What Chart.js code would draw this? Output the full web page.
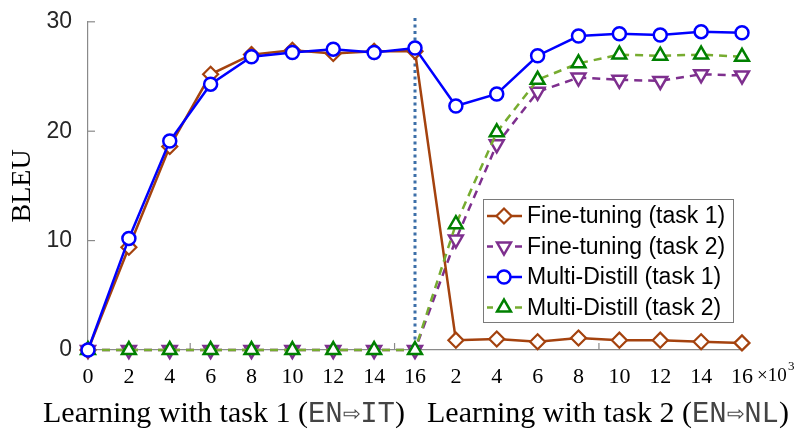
<!DOCTYPE html>
<html>
<head>
<meta charset="utf-8">
<script src="https://cdn.jsdelivr.net/npm/chart.js@4"></script>
<style>
  html, body { margin: 0; padding: 0; background: #fff; }
  #chart { display: block; }
</style>
</head>
<body>
<canvas id="chart" width="806" height="439"></canvas>
<script>
// x positions: training steps (x10^3) for task 1, then task 2
const steps = ['0', '2', '4', '6', '8', '10', '12', '14', '16', '2', '4', '6', '8', '10', '12', '14', '16'];

const fineTuningTask1 = [0, 9.4, 18.6, 25.2, 27.0, 27.4, 27.1, 27.3, 27.3, 0.9, 1.0, 0.75, 1.1, 0.9, 0.9, 0.75, 0.65];
const fineTuningTask2 = [0, 0, 0, 0, 0, 0, 0, 0, 0, 10.1, 18.8, 23.6, 24.9, 24.7, 24.6, 25.2, 25.1];
const multiDistillTask1 = [0, 10.2, 19.1, 24.3, 26.8, 27.2, 27.5, 27.2, 27.6, 22.3, 23.4, 26.9, 28.7, 28.9, 28.8, 29.1, 29.0];
const multiDistillTask2 = [0, 0, 0, 0, 0, 0, 0, 0, 0, 11.5, 19.9, 24.7, 26.2, 27.0, 26.9, 27.0, 26.8];

const yTicks = [0, 10, 20, 30];
const taskSwitchIndex = 8;

const BROWN = '#A4420E';
const PURPLE = '#7E2F8E';
const BLUE = '#0000FF';
const GREEN_LINE = '#77AC30';
const GREEN_MARK = '#008000';
const AXIS = '#8a8a8a';

function drawMarker(ctx, style, x, y, r, rot) {
  ctx.beginPath();
  if (style === 'circle') {
    ctx.arc(x, y, r, 0, Math.PI * 2);
  } else if (style === 'rectRot') {
    ctx.moveTo(x, y - r);
    ctx.lineTo(x + r, y);
    ctx.lineTo(x, y + r);
    ctx.lineTo(x - r, y);
  } else if (style === 'triangle') {
    let a = (rot || 0) * Math.PI / 180;
    for (let k = 0; k < 3; k++) {
      const px = x + Math.sin(a) * r;
      const py = y - Math.cos(a) * r;
      if (k === 0) ctx.moveTo(px, py); else ctx.lineTo(px, py);
      a += Math.PI * 2 / 3;
    }
  }
  ctx.closePath();
  ctx.fill();
  ctx.stroke();
}

const extras = {
  id: 'extras',
  beforeDatasetsDraw(chart) {
    const { ctx, scales: { x, y } } = chart;
    ctx.save();
    // task switch line
    const sx = x.getPixelForValue(taskSwitchIndex);
    ctx.strokeStyle = '#3C6FA8';
    ctx.lineWidth = 3;
    ctx.setLineDash([3, 3.5]);
    ctx.beginPath();
    ctx.moveTo(sx, 18);
    ctx.lineTo(sx, y.bottom);
    ctx.stroke();
    ctx.setLineDash([]);
    // inward tick marks
    ctx.strokeStyle = AXIS;
    ctx.lineWidth = 1.2;
    yTicks.forEach((v) => {
      const py = y.getPixelForValue(v);
      ctx.beginPath();
      ctx.moveTo(x.left, py);
      ctx.lineTo(x.left + 7, py);
      ctx.stroke();
    });
    [2.5, 7.5, 12.5].forEach((v) => {
      const px = x.getPixelForValue(v);
      ctx.beginPath();
      ctx.moveTo(px, y.bottom);
      ctx.lineTo(px, y.bottom - 7);
      ctx.stroke();
    });
    ctx.restore();
  },
  afterDraw(chart) {
    const { ctx } = chart;
    ctx.save();

    // legend box
    const bx = 483, by = 199, bw = 250, bh = 123;
    ctx.fillStyle = '#fff';
    ctx.fillRect(bx, by, bw, bh);
    ctx.strokeStyle = '#7a7a7a';
    ctx.lineWidth = 1;
    ctx.strokeRect(bx + 0.5, by + 0.5, bw, bh);
    [0, 1, 2, 3].forEach((i, row) => {
      const ds = chart.data.datasets[i];
      const ly = by + 17 + row * 30.5;
      ctx.strokeStyle = ds.borderColor;
      ctx.lineWidth = 2.5;
      ctx.beginPath();
      if (ds.borderDash) {
        ctx.moveTo(bx + 4, ly); ctx.lineTo(bx + 10, ly);
        ctx.moveTo(bx + 32, ly); ctx.lineTo(bx + 39, ly);
      } else {
        ctx.moveTo(bx + 4, ly); ctx.lineTo(bx + 39, ly);
      }
      ctx.stroke();
      ctx.fillStyle = '#fff';
      ctx.strokeStyle = ds.pointBorderColor;
      ctx.lineWidth = ds.pointBorderWidth;
      drawMarker(ctx, ds.pointStyle, bx + 21, ly, ds.pointRadius, ds.pointRotation);
      ctx.fillStyle = '#000';
      ctx.font = '23px "Liberation Sans", Arial, sans-serif';
      ctx.textBaseline = 'middle';
      ctx.textAlign = 'left';
      ctx.fillText(ds.label, bx + 44, ly + 1);
    });

    // x10^3 multiplier
    ctx.fillStyle = '#000';
    ctx.textBaseline = 'alphabetic';
    ctx.font = '19px "Liberation Serif", "Times New Roman", serif';
    ctx.fillText('×10', 757, 381);
    ctx.font = '13px "Liberation Serif", "Times New Roman", serif';
    ctx.fillText('3', 788, 370);

    // task titles below the axis
    const serif = '30px "Liberation Serif", "Times New Roman", serif';
    const mono = '29px "Liberation Mono", "DejaVu Sans Mono", monospace';
    const titles = [
      { cx: 224, parts: [['Learning with task 1 (', serif], ['EN⇨IT', mono], [')', serif]] },
      { cx: 608, parts: [['Learning with task 2 (', serif], ['EN⇨NL', mono], [')', serif]] },
    ];
    titles.forEach((t) => {
      let total = 0;
      t.parts.forEach(([txt, f]) => { ctx.font = f; total += ctx.measureText(txt).width; });
      let cx = t.cx - total / 2;
      t.parts.forEach(([txt, f]) => {
        ctx.font = f;
        ctx.fillStyle = f === mono ? '#444' : '#000';
        ctx.fillText(txt, cx, 422);
        cx += ctx.measureText(txt).width;
      });
    });
    ctx.restore();
  },
};

new Chart(document.getElementById('chart'), {
  type: 'line',
  data: {
    labels: steps,
    datasets: [
      {
        label: 'Fine-tuning (task 1)',
        data: fineTuningTask1,
        borderColor: BROWN,
        borderWidth: 2.5,
        pointStyle: 'rectRot',
        pointRadius: 7.5,
        pointBorderColor: BROWN,
        pointBackgroundColor: '#fff',
        pointBorderWidth: 2.2,
        order: 2,
      },
      {
        label: 'Fine-tuning (task 2)',
        data: fineTuningTask2,
        borderColor: PURPLE,
        borderWidth: 2.5,
        borderDash: [8, 6],
        pointStyle: 'triangle',
        pointRotation: 180,
        pointRadius: 8,
        pointBorderColor: PURPLE,
        pointBackgroundColor: '#fff',
        pointBorderWidth: 2.5,
        order: 3,
      },
      {
        label: 'Multi-Distill (task 1)',
        data: multiDistillTask1,
        borderColor: BLUE,
        borderWidth: 2.5,
        pointStyle: 'circle',
        pointRadius: 6.5,
        pointBorderColor: BLUE,
        pointBackgroundColor: '#fff',
        pointBorderWidth: 2.5,
        order: 0,
      },
      {
        label: 'Multi-Distill (task 2)',
        data: multiDistillTask2,
        borderColor: GREEN_LINE,
        borderWidth: 2.5,
        borderDash: [8, 6],
        pointStyle: 'triangle',
        pointRadius: 8,
        pointBorderColor: GREEN_MARK,
        pointBackgroundColor: '#fff',
        pointBorderWidth: 2.5,
        order: 1,
      },
    ],
  },
  options: {
    responsive: false,
    animation: false,
    devicePixelRatio: 1,
    layout: { padding: { top: 20, right: 64, left: 0, bottom: 0 } },
    elements: { line: { tension: 0 } },
    datasets: { line: { clip: false } },
    plugins: { legend: { display: false }, tooltip: { enabled: false } },
    scales: {
      x: {
        type: 'category',
        offset: false,
        grid: { display: false },
        border: { display: true, color: AXIS, width: 1.2 },
        ticks: {
          autoSkip: false,
          maxRotation: 0,
          padding: 6,
          color: '#000',
          font: { family: '"Liberation Serif", "Times New Roman", serif', size: 22 },
        },
        afterFit: (scale) => { scale.height = 89; },
      },
      y: {
        min: 0,
        max: 30,
        grid: { display: false },
        border: { display: true, color: AXIS, width: 1.2 },
        ticks: {
          stepSize: 10,
          padding: 8,
          color: '#262626',
          font: { family: '"Liberation Sans", Arial, sans-serif', size: 23 },
        },
        title: {
          display: true,
          text: 'BLEU',
          color: '#000',
          padding: { top: 6, bottom: 0 },
          font: { family: '"Liberation Serif", "Times New Roman", serif', size: 28 },
        },
        afterFit: (scale) => { scale.width = 88; },
      },
    },
  },
  plugins: [extras],
});
</script>
</body>
</html>
